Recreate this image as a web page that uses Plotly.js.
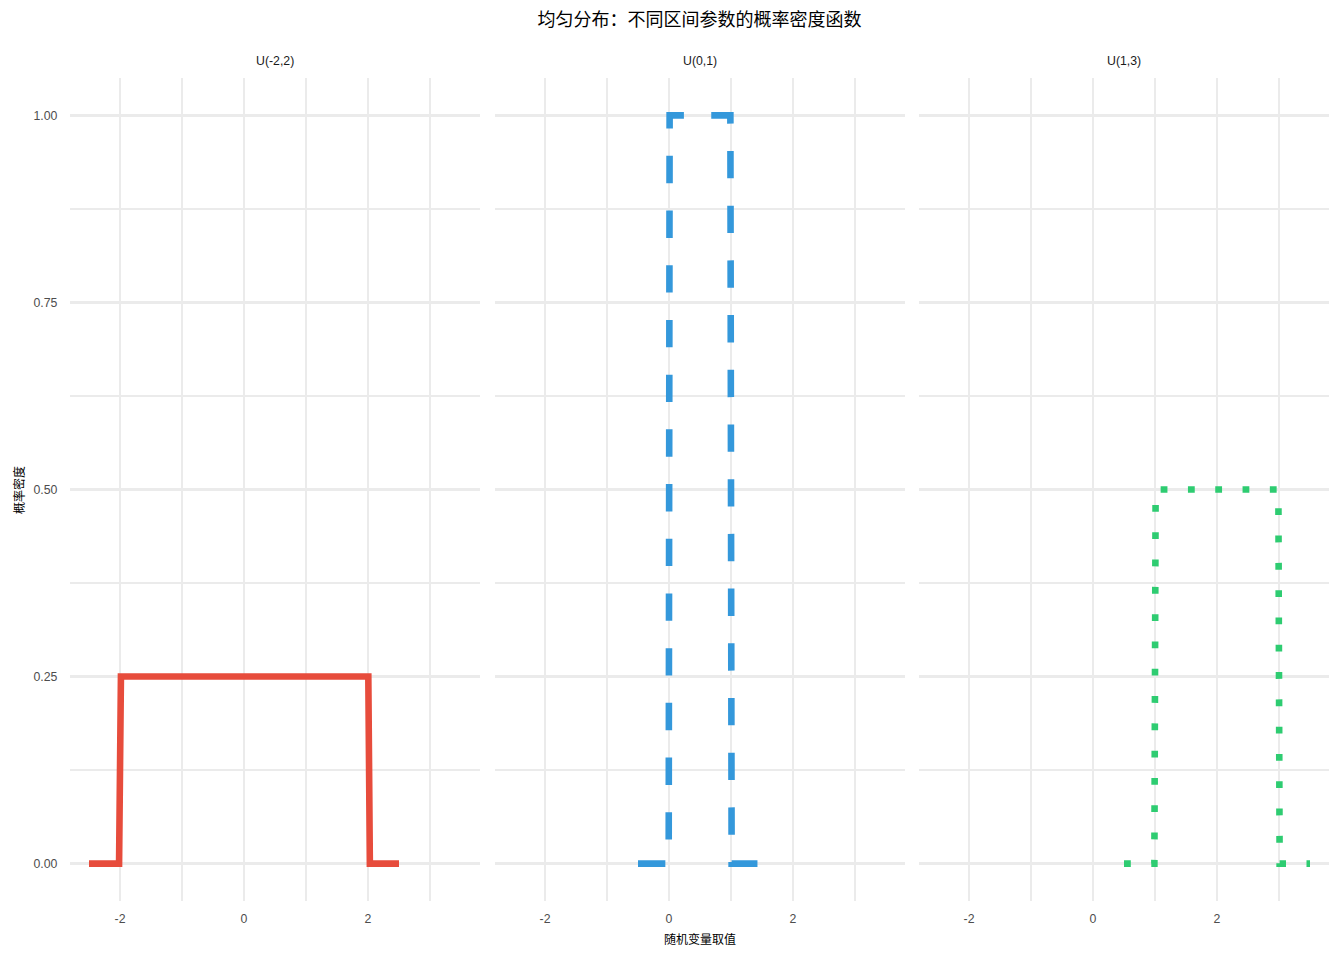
<!DOCTYPE html>
<html>
<head>
<meta charset="utf-8">
<script src="https://cdn.plot.ly/plotly-3.0.1.min.js"></script>
<style>
  html, body { margin: 0; padding: 0; background: #fff; }
  #chart { width: 1344px; height: 960px; }
</style>
</head>
<body>
<div id="chart"></div>
<script>
// facet labels and colours
const categories = ['U(-2,2)', 'U(0,1)', 'U(1,3)'];
const colors = ['#E74C3C', '#3498DB', '#2ECC71'];
const dashes = ['solid', '27.35px,27.35px', '6.8px,20.5px'];

// corner points of each density curve
const xU22 = [-2.5, -2.015, -1.985, 2.005, 2.03, 2.5];
const yU22 = [0, 0, 0.25, 0.25, 0, 0];
const xU01 = [-0.5, -0.005, 0.01, 0.99, 1.01, 1.5];
const yU01 = [0, 0, 1, 1, 0, 0];
const xU13 = [0.5, 0.99, 1.01, 2.99, 3.01, 3.5];
const yU13 = [0, 0, 0.5, 0.5, 0, 0];

const xTicks = [-2, 0, 2];
const yTicks = [0, 0.25, 0.5, 0.75, 1];

const xs = [xU22, xU01, xU13];
const ys = [yU22, yU01, yU13];

const font = 'Liberation Sans, Arial, Noto Sans CJK SC, sans-serif';
const cjk = 'Noto Sans CJK SC, sans-serif';

let data = categories.map((c, i) => ({
	x: xs[i],
	y: ys[i],
	xaxis: i === 0 ? 'x' : 'x' + (i + 1),
	yaxis: i === 0 ? 'y' : 'y' + (i + 1),
	mode: 'lines',
	name: c,
	showlegend: false,
	line: { color: colors[i], width: 6.6, dash: dashes[i] },
	hoverinfo: 'x+y'
}));

const W = 1344, H = 960;
const panels = [[70.4, 479.6], [495.4, 904.6], [919.4, 1328.6]];
const yDom = [1 - 901 / H, 1 - 78 / H];

function xAxis(i) {
	return {
		domain: [panels[i][0] / W, panels[i][1] / W],
		range: [-2.8, 3.8],
		tickvals: xTicks,
		ticktext: xTicks.map(String),
		showgrid: true,
		gridcolor: '#ebebeb',
		gridwidth: 2.4,
		minor: { dtick: 1, tick0: 0, showgrid: true, gridcolor: '#ebebeb', gridwidth: 1.2 },
		zeroline: false,
		showline: false,
		ticks: '',
		ticklabelstandoff: 9,
		tickfont: { family: font, size: 12.3, color: '#4d4d4d' },
		anchor: i === 0 ? 'y' : 'y' + (i + 1)
	};
}

function yAxis(i) {
	return {
		domain: yDom,
		range: [-0.05, 1.05],
		tickvals: yTicks,
		ticktext: yTicks.map(v => v.toFixed(2)),
		showticklabels: i === 0,
		showgrid: true,
		gridcolor: '#ebebeb',
		gridwidth: 2.4,
		minor: { dtick: 0.125, tick0: 0, showgrid: true, gridcolor: '#ebebeb', gridwidth: 1.2 },
		zeroline: false,
		showline: false,
		ticks: '',
		ticklabelstandoff: 12,
		tickfont: { family: font, size: 12.3, color: '#4d4d4d' },
		anchor: i === 0 ? 'x' : 'x' + (i + 1)
	};
}

let layout = {
	width: W,
	height: H,
	paper_bgcolor: '#ffffff',
	plot_bgcolor: '#ffffff',
	margin: { l: 0, r: 0, t: 0, b: 0 },
	showlegend: false,
	title: {
		text: '均匀分布：不同区间参数的概率密度函数',
		font: { family: cjk, size: 18, color: '#000000' },
		x: 699.5 / W,
		xanchor: 'center',
		y: 1 - 20 / H,
		yanchor: 'middle'
	},
	xaxis: xAxis(0), xaxis2: xAxis(1), xaxis3: xAxis(2),
	yaxis: yAxis(0), yaxis2: yAxis(1), yaxis3: yAxis(2),
	annotations: categories.map((c, i) => ({
		text: c,
		xref: 'paper', yref: 'paper',
		x: (panels[i][0] + panels[i][1]) / 2 / W,
		y: 1 - 61 / H,
		xanchor: 'center', yanchor: 'middle',
		showarrow: false,
		font: { family: font, size: 12.3, color: '#1a1a1a' }
	})).concat([
		{
			text: '随机变量取值',
			xref: 'paper', yref: 'paper',
			x: 699.5 / W, y: 1 - 938 / H,
			xanchor: 'center', yanchor: 'middle',
			showarrow: false,
			font: { family: cjk, size: 12, color: '#000000' }
		},
		{
			text: '概率密度',
			xref: 'paper', yref: 'paper',
			x: 19 / W, y: 1 - 490 / H,
			xanchor: 'center', yanchor: 'middle',
			textangle: -90,
			showarrow: false,
			font: { family: cjk, size: 12, color: '#000000' }
		}
	])
};

Plotly.newPlot('chart', data, layout, { displayModeBar: false, staticPlot: true });
</script>
</body>
</html>
